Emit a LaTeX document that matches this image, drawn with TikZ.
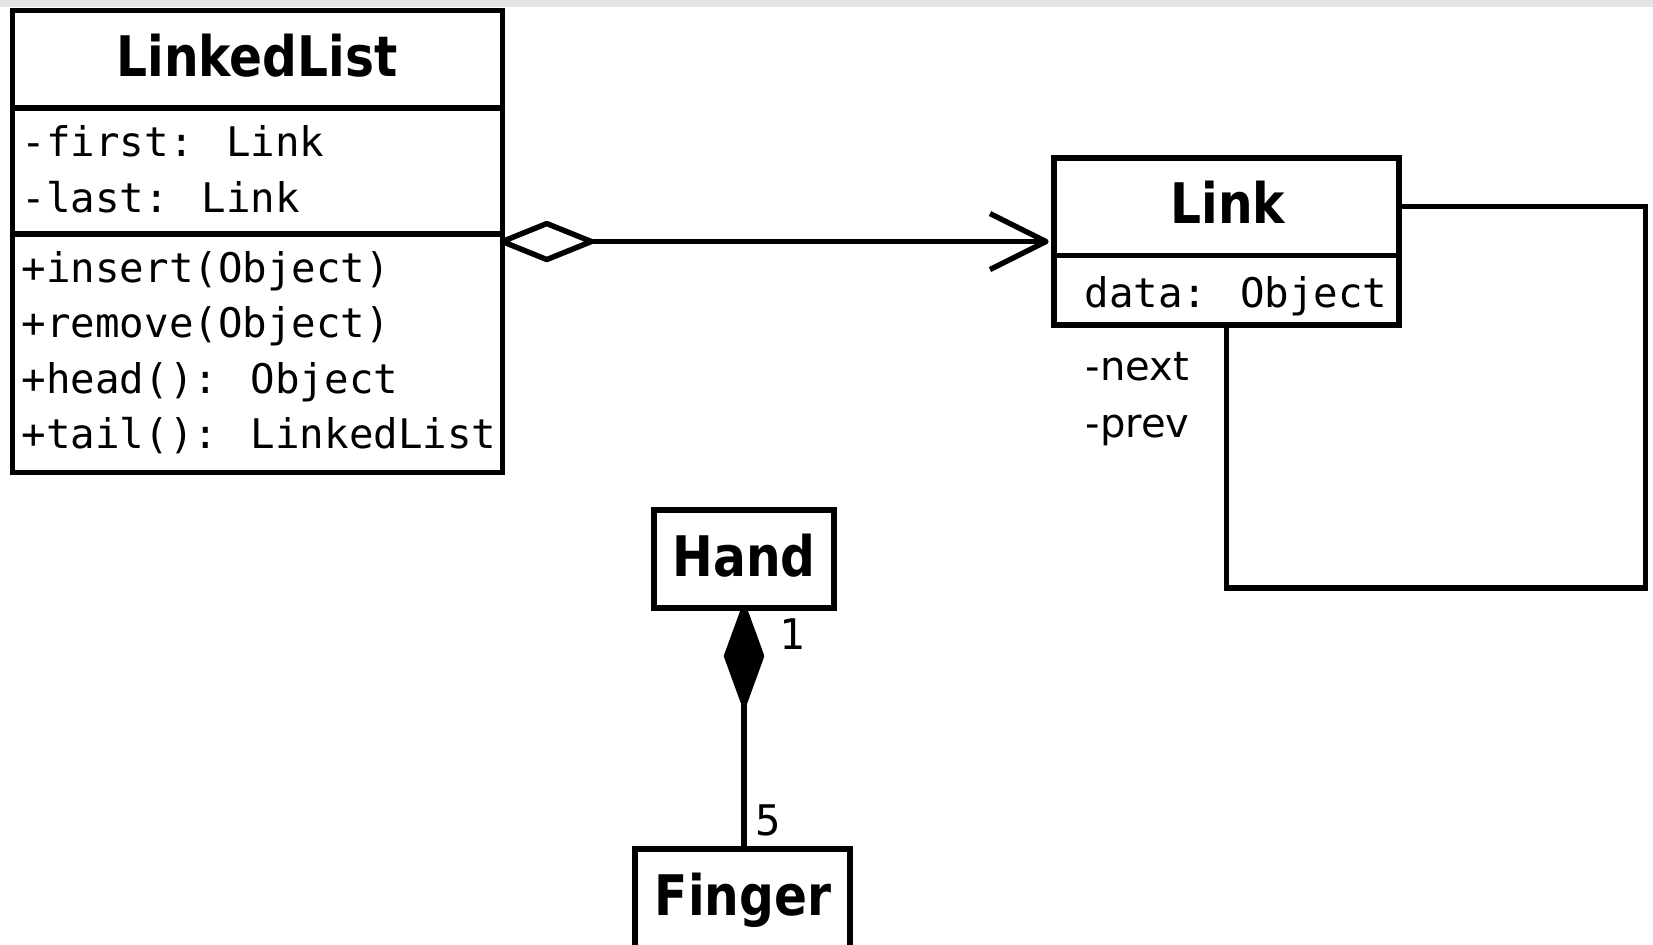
\documentclass[tikz,border=0pt]{standalone}
\usepackage{fontspec}
\setmainfont{DejaVu Sans}
\newfontfamily\titlefont[FakeStretch=0.87]{DejaVu Sans}
\newfontfamily\codefont{DejaVu Sans Mono}
\usetikzlibrary{calc}

\tikzset{
  conn/.style={line width=1.55pt, line join=round},
  classbox/.style={draw, line width=1.55pt, inner sep=0pt, outer sep=0pt, anchor=north west},
  classname/.style={anchor=base, inner sep=0pt, font=\titlefont\bfseries\fontsize{15.9}{19}\selectfont},
  member/.style={anchor=base west, inner sep=0pt, font=\codefont\fontsize{11.6}{14}\selectfont},
  role/.style={anchor=base west, inner sep=0pt, font=\fontsize{11.4}{14}\selectfont},
  mult/.style={anchor=base, inner sep=0pt, font=\codefont\fontsize{12}{14}\selectfont},
}

\begin{document}
\begin{tikzpicture}[x=0.01cm, y=-0.01cm]
\useasboundingbox (0,0) rectangle (1653,945);
\fill[gray!22] (0,0) rectangle (1653,7);

% ---- LinkedList ----
\node[classbox, minimum width=4.895cm, minimum height=4.615cm] (LL) at (12.5,10.5) {};
\draw[conn, line cap=rect] (12.5,108) -- (502,108);
\draw[conn, line cap=rect] (12.5,234) -- (502,234);
\node[classname] (LLname) at (257,76) {LinkedList};
\node[member] (LLa1) at (21,156) {-first: Link};
\node[member] (LLa2) at (21,212) {-last: Link};
\node[member] (LLo1) at (21,282) {+insert(Object)};
\node[member] (LLo2) at (21,337) {+remove(Object)};
\node[member] (LLo3) at (21,393) {+head(): Object};
\node[member] (LLo4) at (21,448) {+tail(): LinkedList};

% ---- Link ----
\node[classbox, minimum width=3.45cm, minimum height=1.67cm] (Link) at (1054,158) {};
\draw[conn, line cap=rect] (1054,255.5) -- (1399,255.5);
\node[classname] (Linkname) at (1228,223) {Link};
\node[member] (Linka1) at (1084,307) {data: Object};

% ---- Hand / Finger ----
\node[classbox, minimum width=1.80cm, minimum height=0.98cm] (Hand) at (654,510) {};
\node[classname] (Handname) at (744,576) {Hand};
\node[classbox, minimum width=2.15cm, minimum height=1.3cm] (Finger) at (635,849) {};
\node[classname] (Fingername) at (743,915) {Finger};

% ---- aggregation LinkedList -> Link ----
\coordinate (aggS) at (LL.east |- Link.west);
\coordinate (aggT) at ($(Link.west)+(-8,0)$);
\draw[conn] ($(aggS)+(89,0)$) -- (aggT);
\draw[conn, fill=white] (aggS) -- ++(44.5,-18) -- ++(44.5,18) -- ++(-44.5,18) -- cycle;
\draw[conn] ($(aggT)+(-56,-28)$) -- (aggT) -- ($(aggT)+(-56,28)$);

% ---- self association on Link ----
\draw[conn, line join=miter] ($(Link.east)+(0,-35)$) -- ++(246.5,0)
  |- ($(Link.south)+(0,263)$) -- (Link.south);
\node[role] (next) at (1085,380) {-next};
\node[role] (prev) at (1085,437) {-prev};

% ---- composition Hand <>-- Finger ----
\draw[conn, fill=black] (Hand.south) -- ++(17.5,48) -- ++(-17.5,48) -- ++(-17.5,-48) -- cycle;
\draw[conn] ($(Hand.south)+(0,96)$) -- (Hand.south |- Finger.north);
\node[mult] (m1) at (792,649) {1};
\node[mult] (m5) at (768.5,835) {5};
\end{tikzpicture}
\end{document}
